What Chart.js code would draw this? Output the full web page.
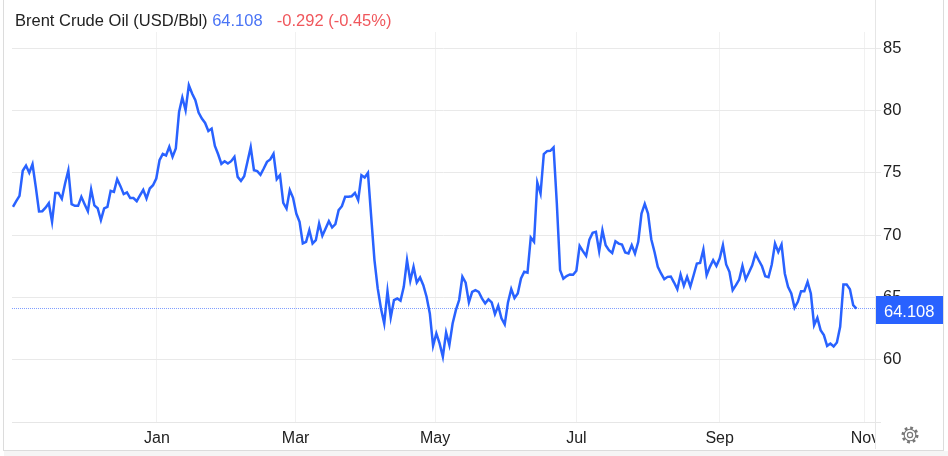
<!DOCTYPE html>
<html>
<head>
<meta charset="utf-8">
<title>Brent Crude Oil</title>
<script src="https://cdn.jsdelivr.net/npm/chart.js@4"></script>
<style>
  html, body { margin: 0; padding: 0; background: #fff; overflow: hidden; }
  #wrap { position: relative; width: 948px; height: 456px; font-family: "Liberation Sans", Arial, sans-serif; }
  #head { position: absolute; left: 15px; top: 11px; font-size: 16.5px; line-height: 18px; white-space: pre; color: #222; }
  #head .chg { color: #f0575c; margin-left: 5px; }
  #head .last { color: #4a74f5; }
  #gear { position: absolute; left: 900px; top: 425px; }
</style>
</head>
<body>
<div id="wrap">
  <canvas id="oil" width="948" height="456"></canvas>
  <div id="head">Brent Crude Oil (USD/Bbl) <span class="last">64.108</span>  <span class="chg">-0.292 (-0.45%)</span></div>
  <svg id="gear" width="20" height="20" viewBox="0 0 20 20" fill="none" stroke="#777">
    <circle cx="10" cy="10" r="7.2" stroke-width="2.6" stroke-dasharray="2.8 2.85"/>
    <circle cx="10" cy="10" r="5.8" stroke-width="1.1"/>
    <circle cx="10" cy="10" r="2.6" stroke-width="1.2"/>
  </svg>
</div>
<script>
const prices = [
  72.27,72.72,73.15,75.16,75.58,75.0,75.69,73.87,71.9,71.92,72.2,72.56,71.07,73.37,73.37,72.91,74.14,75.2,72.48,72.35,
  72.35,73.07,72.48,71.92,73.66,72.38,72.16,71.2,72.14,72.27,73.55,73.47,74.49,73.93,73.29,73.42,72.97,72.97,72.72,73.18,
  73.63,72.94,73.74,74.0,74.54,76.01,76.52,76.39,77.08,76.28,76.95,79.89,81.04,80.02,82.03,81.36,80.82,79.84,79.35,79.0,
  78.36,78.55,77.16,76.49,75.72,75.93,75.74,75.93,76.28,74.67,74.35,74.73,75.88,77.05,75.21,75.13,74.84,75.34,75.88,76.07,
  76.52,74.49,74.81,72.59,72.13,73.61,72.99,71.73,71.06,69.33,69.46,70.39,69.33,69.59,70.93,69.94,70.53,71.12,70.61,70.88,
  72.0,72.32,73.07,73.07,73.12,73.39,72.8,74.81,74.62,74.99,71.46,68.0,65.72,64.11,62.91,65.5,63.39,64.78,64.91,64.73,
  65.85,67.99,66.33,67.45,66.2,66.6,65.98,65.05,63.71,61.12,62.11,61.31,60.24,62.19,61.18,62.91,63.98,64.79,66.66,66.18,
  64.6,65.45,65.59,65.45,64.92,64.52,64.84,64.6,63.66,64.33,63.32,62.83,64.6,65.67,64.95,65.32,66.52,67.06,66.98,69.81,
  69.47,74.22,73.34,76.5,76.74,76.76,77.03,72.54,67.19,66.5,66.71,66.84,66.82,67.14,69.14,68.71,68.33,69.64,70.18,70.26,
  68.71,70.39,69.19,68.79,68.57,69.51,69.32,69.24,68.6,68.52,69.19,68.52,69.46,71.73,72.5,71.73,69.67,68.65,67.45,66.92,
  66.46,66.65,66.68,66.19,65.66,66.84,65.93,66.65,65.87,66.78,67.72,67.77,68.84,66.78,67.45,67.99,67.53,68.12,69.19,67.64,
  67.05,65.58,65.98,66.43,67.53,66.46,67.0,67.58,68.49,67.98,67.5,66.7,66.62,67.64,69.32,68.65,69.24,66.92,65.85,65.31,
  64.16,64.64,65.5,65.5,66.25,65.31,62.77,63.36,62.37,61.97,61.11,61.3,61.06,61.38,62.64,66.03,66.03,65.66,64.38,64.108
];
const monthLabels = ['Jan', 'Mar', 'May', 'Jul', 'Sep', 'Nov'];
const monthDays = [44.2, 86.8, 129.6, 173, 217, 261.6];
const priceTicks = [55, 60, 65, 70, 75, 80, 85];
const lastPrice = 64.108;

const BLUE = '#2962ff';

const frame = {
  id: 'frame',
  afterDraw(chart) {
    const c = chart.ctx, a = chart.chartArea;
    const yPos = chart.scales.y.getPixelForValue(lastPrice);
    c.save();
    // Nov gets cut off by the price axis
    c.fillStyle = '#fff';
    c.fillRect(a.right, a.bottom + 1, 20, 27);
    c.fillStyle = '#e6e6e6';
    c.fillRect(a.right, 0, 1, 449);
    c.fillRect(a.right, a.bottom, 6, 1);
    c.fillStyle = '#dcdcdc';
    c.fillRect(3, 0, 1, 450);
    c.fillRect(943, 0, 1, 450);
    c.fillRect(3, 450, 941, 1);
    c.fillStyle = '#f5f5f5';
    c.fillRect(4, 451, 944, 5);
    // last price tag
    c.fillStyle = BLUE;
    c.fillRect(a.right + 1, 296, 67, 28);
    c.fillStyle = '#fff';
    c.font = '16.5px "Liberation Sans", Arial, sans-serif';
    c.textBaseline = 'middle';
    c.fillText(lastPrice.toFixed(3), 884, Math.round(yPos) + 3);
    c.restore();
  }
};

new Chart(document.getElementById('oil'), {
  type: 'line',
  data: {
    datasets: [{
      data: prices.map((p, i) => ({ x: i, y: p })),
      borderColor: BLUE,
      borderWidth: 2.5,
      pointRadius: 0,
      tension: 0
    }, {
      data: [{ x: -0.3, y: lastPrice }, { x: 264.7, y: lastPrice }],
      borderColor: '#7f9dff',
      borderWidth: 1,
      borderDash: [1, 1],
      pointRadius: 0
    }]
  },
  options: {
    responsive: false,
    animation: false,
    layout: { padding: { left: 12, top: 32, right: 0, bottom: 6 } },
    plugins: { legend: { display: false }, tooltip: { enabled: false } },
    scales: {
      x: {
        type: 'linear',
        min: -0.3,
        max: 264.7,
        afterBuildTicks(s) { s.ticks = monthDays.map(d => ({ value: d })); },
        afterFit(s) { s.height = 28; },
        grid: { color: '#f1f1f1', drawTicks: false },
        border: { color: '#e6e6e6' },
        ticks: {
          autoSkip: false,
          maxRotation: 0,
          padding: 7,
          color: '#222',
          font: { family: '"Liberation Sans", Arial, sans-serif', size: 16 },
          callback(v) { return monthLabels[monthDays.indexOf(v)]; }
        }
      },
      y: {
        position: 'right',
        min: 55,
        max: 86.3,
        afterFit(s) { s.width = 73; },
        afterBuildTicks(s) { s.ticks = priceTicks.map(v => ({ value: v })); },
        grid: { color: '#e9e9e9', tickLength: 6 },
        border: { display: false },
        ticks: {
          autoSkip: false,
          padding: 2,
          color: '#222',
          font: { family: '"Liberation Sans", Arial, sans-serif', size: 16.5 },
          callback(v) { return v >= 60 ? v : ''; }
        }
      }
    }
  },
  plugins: [frame]
});
</script>
</body>
</html>
